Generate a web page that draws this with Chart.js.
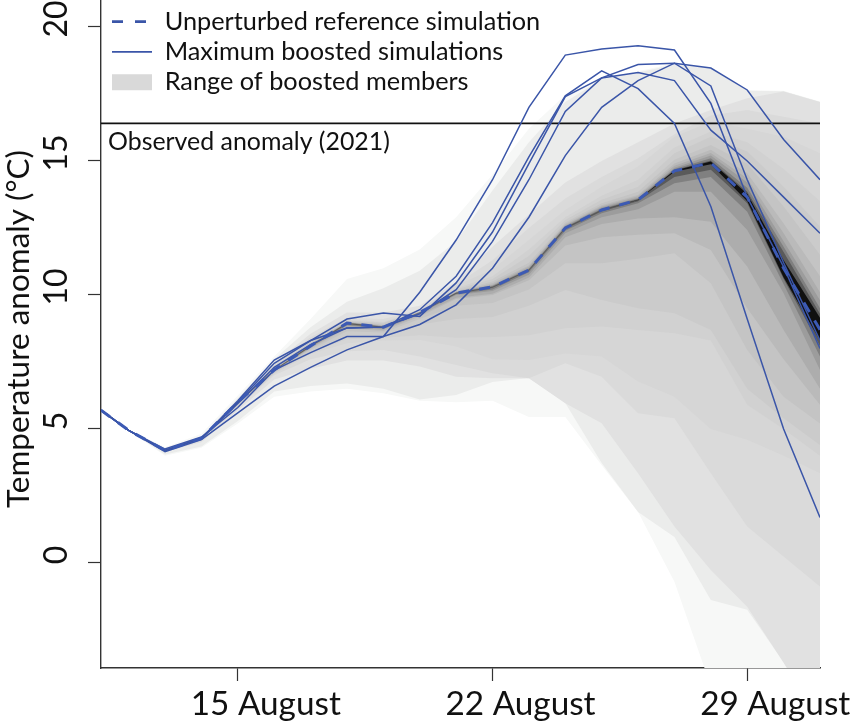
<!DOCTYPE html>
<html><head><meta charset="utf-8">
<style>html,body{margin:0;padding:0;background:#fff}canvas{display:block}</style>
<script src="https://cdn.jsdelivr.net/npm/chart.js@4"></script>
</head><body><canvas id="c" width="851" height="724"></canvas>
<script>
const days=[11.24,12,13,14,15,16,17,18,19,20,21,22,23,24,25,26,27,28,29,30,31];
const xTickValues=[15,22,29];
const xTickLabels=['15 August','22 August','29 August'];
const yTickValues=[0,5,10,15,20];
const observed=16.4;
const reference=[5.7,4.95,4.2,4.65,6.0,7.2,8.1,8.95,8.8,9.35,10.07,10.3,10.93,12.5,13.17,13.55,14.63,14.93,13.65,11.0,8.7];
const boostA=[5.7,4.95,4.15,4.6,5.6,6.6,7.3,7.95,8.45,10.1,12.05,14.3,17.0,18.95,19.18,19.3,19.14,17.15,13.65,11.05,8.0];
const boostB=[5.7,4.95,4.2,4.65,6.05,7.57,8.3,8.77,8.8,9.45,10.7,12.7,15.15,17.43,18.36,17.7,16.4,13.3,9.1,5.0,1.7];
const boostC=[5.7,4.95,4.2,4.65,6.0,7.45,8.3,9.1,9.33,9.2,10.45,12.35,14.9,17.4,18.1,18.3,18.0,16.15,15.0,13.65,12.3];
const boostD=[5.7,4.95,4.2,4.65,5.95,7.3,8.15,8.77,8.8,9.3,10.2,12.0,14.3,16.85,18.1,18.6,18.65,17.8,14.3,11.2,8.3];
const boostE=[5.7,4.95,4.25,4.7,5.8,7.2,7.85,8.45,8.45,8.9,9.63,11.0,12.9,15.2,17.0,18.0,18.65,18.47,17.65,15.8,14.3];
const upper1=[5.7,4.97,4.32,4.82,6.25,7.7,9.1,10.6,11.0,11.7,12.9,14.5,16.2,17.46,18.1,18.35,18.65,18.47,17.65,17.62,17.22];
const lower1=[5.7,4.93,4.0,4.3,5.2,6.2,6.4,6.5,6.33,6.05,6.0,6.05,5.45,5.45,3.65,1.9,-0.7,-4.6,-8,-10,-12];
const upper2=[5.7,4.96,4.27,4.72,6.15,7.6,8.8,9.75,10.25,10.9,12.0,13.9,15.7,17.2,18.05,18.3,18.6,18.45,17.62,17.6,17.2];
const lower2=[5.7,4.94,4.05,4.35,5.3,6.4,6.6,6.7,6.5,6.1,6.27,6.75,6.9,5.97,3.73,1.9,0.97,-1.38,-1.75,-3.7,-5.8];
const upper3=[5.7,4.95,4.24,4.68,6.08,7.45,8.55,9.35,9.35,9.6,10.5,11.8,13.0,14.2,15.0,15.7,16.4,16.9,17.34,17.59,17.2];
const lower3=[5.7,4.95,4.15,4.5,5.7,6.85,7.25,7.55,7.55,7.33,6.95,6.89,6.89,5.96,5.21,3.35,1.36,-0.26,-1.63,-3.72,-5.97];
const upper4=[5.7,4.95,4.22,4.66,6.06,7.38,8.42,9.15,9.1,9.45,10.4,11.3,12.5,13.6,14.4,15.1,16.0,16.7,16.9,16.65,16.4];
const lower4=[5.7,4.95,4.17,4.55,5.8,7.0,7.6,7.9,7.95,7.7,7.39,7.08,6.89,7.45,6.95,5.59,5.4,3.35,1.36,0.24,-0.88];
const upper5=[5.7,4.95,4.21,4.66,6.05,7.35,8.35,9.1,9.0,9.42,10.35,10.95,12.05,13.17,14.04,14.79,15.9,16.47,16.2,15.9,15.29];
const lower5=[5.7,4.95,4.18,4.58,5.85,7.05,7.8,8.2,8.3,8.32,8.08,7.6,7.57,7.82,7.7,6.77,6.2,5.0,4.6,4.0,3.35];
const upper6=[5.7,4.95,4.21,4.66,6.04,7.3,8.28,9.05,8.97,9.4,10.25,10.7,11.7,12.9,13.7,14.3,15.5,16.1,15.7,14.7,13.5];
const lower6=[5.7,4.95,4.19,4.6,5.88,7.08,7.85,8.35,8.4,8.5,8.4,8.43,8.5,8.76,8.82,8.69,8.57,8.3,5.9,5.0,4.0];
const upper7=[5.7,4.95,4.21,4.66,6.03,7.28,8.25,9.03,8.95,9.38,10.2,10.6,11.45,12.8,13.55,14.04,15.29,15.9,15.35,14.04,12.55];
const lower7=[5.7,4.95,4.19,4.61,5.9,7.1,7.9,8.5,8.5,8.9,9.1,9.18,9.6,10.19,9.81,9.5,9.32,8.69,6.5,5.4,4.4];
const upper8=[5.7,4.95,4.2,4.65,6.02,7.25,8.2,9.0,8.9,9.37,10.15,10.5,11.2,12.7,13.42,13.85,15.05,15.6,14.9,13.3,11.5];
const lower8=[5.7,4.95,4.2,4.62,5.92,7.12,7.96,8.65,8.6,9.1,9.6,9.7,10.2,11.18,11.18,11.35,11.56,10.44,7.95,6.2,5.2];
const upper9=[5.7,4.95,4.2,4.65,6.02,7.24,8.18,8.99,8.87,9.37,10.13,10.44,11.1,12.65,13.35,13.73,14.91,15.42,14.54,12.67,10.7];
const lower9=[5.7,4.95,4.2,4.63,5.94,7.14,8.0,8.75,8.66,9.2,9.85,10.0,10.55,11.85,12.15,12.25,12.3,11.68,9.5,7.6,5.9];
const upper10=[5.7,4.95,4.2,4.65,6.01,7.22,8.15,8.98,8.85,9.36,10.12,10.38,11.05,12.6,13.3,13.68,14.82,15.3,14.35,12.3,10.1];
const lower10=[5.7,4.95,4.2,4.64,5.95,7.15,8.03,8.8,8.7,9.25,9.9,10.05,10.65,12.15,12.65,12.85,12.9,12.73,11.06,8.69,6.5];
const upper11=[5.7,4.95,4.2,4.65,6.01,7.21,8.13,8.97,8.83,9.36,10.1,10.35,11.0,12.57,13.26,13.63,14.75,15.2,14.2,12.0,9.8];
const lower11=[5.7,4.95,4.2,4.64,5.96,7.16,8.05,8.85,8.73,9.3,10.0,10.15,10.75,12.3,12.9,13.2,13.85,13.85,12.42,10.06,7.2];
const upper12=[5.7,4.95,4.2,4.65,6.0,7.21,8.12,8.96,8.82,9.35,10.09,10.33,10.97,12.54,13.22,13.6,14.7,15.1,14.0,11.8,9.5];
const lower12=[5.7,4.95,4.2,4.65,5.97,7.17,8.07,8.88,8.76,9.32,10.03,10.2,10.85,12.4,13.05,13.42,14.17,14.4,13.11,10.4,7.7];
const upper13=[5.7,4.95,4.2,4.65,6.0,7.2,8.11,8.95,8.81,9.35,10.08,10.31,10.95,12.52,13.19,13.57,14.66,15.02,13.85,11.6,9.3];
const lower13=[5.7,4.95,4.2,4.65,5.98,7.18,8.08,8.92,8.78,9.34,10.05,10.27,10.9,12.46,13.12,13.5,14.4,14.67,13.42,10.6,8.1];
const upperCore=[5.7,4.95,4.2,4.65,6.0,7.2,8.1,8.95,8.8,9.35,10.07,10.3,10.93,12.5,13.17,13.55,14.64,14.98,13.78,11.3,9.15];
const lowerCore=[5.7,4.95,4.2,4.65,6.0,7.2,8.1,8.95,8.8,9.35,10.07,10.3,10.93,12.5,13.17,13.54,14.6,14.88,13.5,10.65,8.3];
const bandUppers=[upper1,upper2,upper3,upper4,upper5,upper6,upper7,upper8,upper9,upper10,upper11,upper12,upper13,upperCore];
const bandLowers=[lower1,lower2,lower3,lower4,lower5,lower6,lower7,lower8,lower9,lower10,lower11,lower12,lower13,lowerCore];
const bandColors=['#f7f8f7','#ebeceb','#e1e1e1','#dadada','#d6d6d6','#d1d1d1','#cbcbcb','#c4c4c4','#bababa','#adadad','#9c9c9c','#808080','#5a5a5a','#101010'];
const boosted=[boostA,boostB,boostC,boostD,boostE];
const legendTexts=['Unperturbed reference simulation','Maximum boosted simulations','Range of boosted members'];
const BLUE='#3a55a8', FONT='Lato';

const pts=a=>a.map((y,i)=>({x:days[i],y}));
const datasets=[];
bandUppers.forEach((u,k)=>{
  const ord=100-k;
  datasets.push({label:'upper'+k,data:pts(u),borderWidth:0,pointRadius:0,fill:'+1',backgroundColor:bandColors[k],order:ord});
  datasets.push({label:'lower'+k,data:pts(bandLowers[k]),borderWidth:0,pointRadius:0,fill:false,order:ord});
});
datasets.push({label:'Observed',data:[{x:days[0],y:observed},{x:days[days.length-1],y:observed}],borderColor:'#111',borderWidth:1.8,pointRadius:0,fill:false,order:20});
boosted.forEach((b,i)=>datasets.push({label:'boost'+i,data:pts(b),borderColor:BLUE,borderWidth:1.5,pointRadius:0,fill:false,order:10-i}));
datasets.push({label:'Reference',data:pts(reference),borderColor:'#3c5ab4',borderWidth:3,borderDash:[11,10],pointRadius:0,fill:false,order:1});

const annotate={id:'annotate',
  afterLayout(chart){
    const s=chart.scales.y;
    if(!s._titleShifted){
      const orig=s.drawTitle;
      s.drawTitle=function(){const b=this.bottom;this.bottom=b-10;orig.call(this);this.bottom=b;};
      s._titleShifted=true;
    }
  },
  beforeDraw(chart){ chart.legend.left=107; chart.legend.top=4; },
  afterDatasetsDraw(chart){
    const {ctx,scales:{x,y}}=chart; ctx.save();
    ctx.font='24.9px '+FONT; ctx.fillStyle='#111'; ctx.textAlign='left'; ctx.textBaseline='middle';
    ctx.fillText('Observed anomaly (2021)',x.getPixelForValue(days[0])+7,y.getPixelForValue(observed)+19);
    ctx.restore();
  }};

new Chart(document.getElementById('c'),{
  type:'line',
  data:{datasets},
  plugins:[annotate],
  options:{
    responsive:false,animation:false,devicePixelRatio:1,
    layout:{padding:{left:0,top:0,right:31,bottom:0}},
    elements:{line:{tension:0}},
    plugins:{
      tooltip:{enabled:false},
      filler:{propagate:false},
      legend:{display:true,position:'chartArea',align:'start',
        labels:{font:{family:FONT,size:25.3},color:'#111',padding:5,usePointStyle:true,pointStyleWidth:40,boxHeight:16,
          generateLabels(){return [
            {text:legendTexts[0],pointStyle:'line',strokeStyle:BLUE,fillStyle:BLUE,lineWidth:2.6,lineDash:[11,12],fontColor:'#111'},
            {text:legendTexts[1],pointStyle:'line',strokeStyle:BLUE,fillStyle:BLUE,lineWidth:1.8,lineDash:[],fontColor:'#111'},
            {text:legendTexts[2],pointStyle:'rect',strokeStyle:'#d9d9d9',fillStyle:'#d9d9d9',lineWidth:0,lineDash:[],fontColor:'#111'}
          ];}
        }}
    },
    scales:{
      x:{type:'linear',min:days[0],max:days[days.length-1],
        afterFit(s){s.height=56;},
        afterBuildTicks(s){s.ticks=xTickValues.map(v=>({value:v}));},
        grid:{drawOnChartArea:false,drawTicks:true,tickLength:13,tickColor:'#333',tickWidth:1.2},
        border:{display:true,color:'#333',width:1.4},
        ticks:{autoSkip:false,maxRotation:0,minRotation:0,labelOffset:28,padding:3,color:'#111',font:{family:FONT,size:33.3},
          callback(v){const i=xTickValues.indexOf(v);return i<0?'':xTickLabels[i];}}
      },
      y:{type:'linear',min:-3.92,max:21.007,
        afterFit(s){s.width=101;s.paddingTop=0;s.paddingBottom=0;},
        afterBuildTicks(s){s.ticks=yTickValues.map(v=>({value:v}));},
        grid:{drawOnChartArea:false,drawTicks:true,tickLength:13,tickColor:'#333',tickWidth:1.2},
        border:{display:true,color:'#333',width:1.4},
        title:{display:true,text:'Temperature anomaly (°C)',color:'#111',font:{family:FONT,size:31.5},padding:{top:0,bottom:0}},
        ticks:{minRotation:90,maxRotation:90,crossAlign:'center',padding:13,labelOffset:-8,color:'#111',font:{family:FONT,size:32},
          callback(v){return String(v);}}
      }
    }
  }
});
</script></body></html>
